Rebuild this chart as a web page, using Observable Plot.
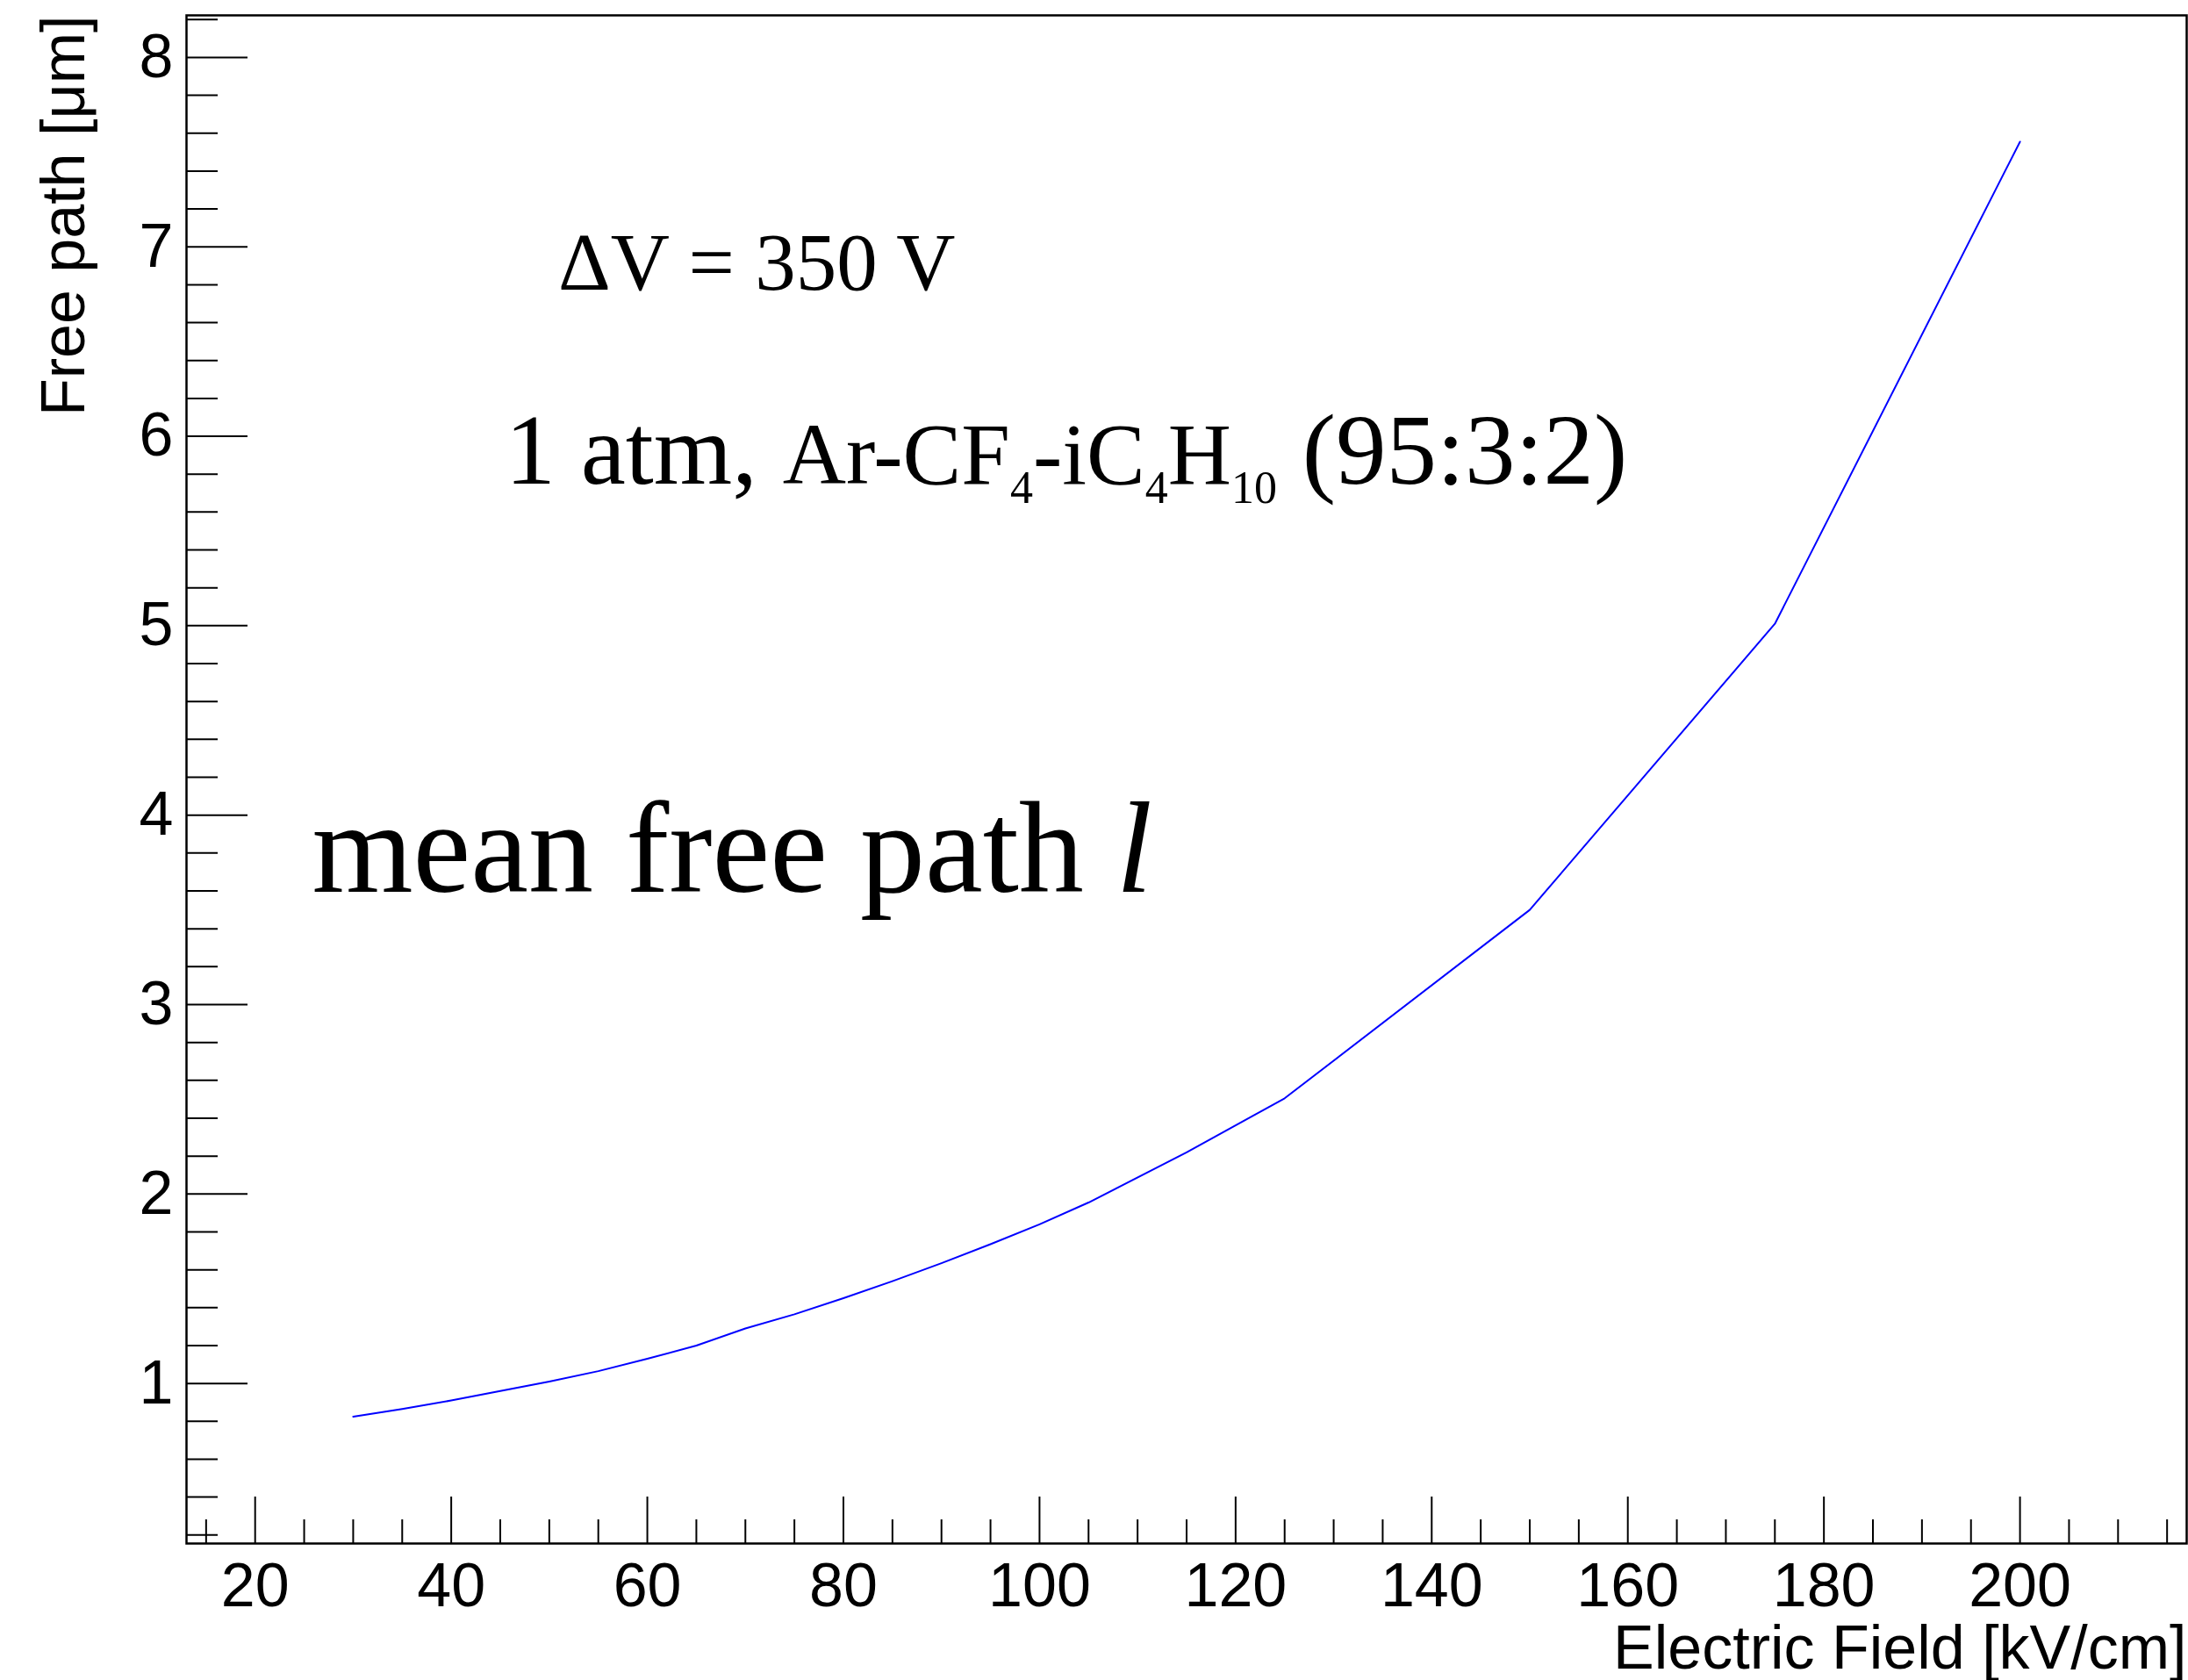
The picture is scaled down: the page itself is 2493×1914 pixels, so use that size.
<!DOCTYPE html>
<html>
<head>
<meta charset="utf-8">
<script src="https://cdn.jsdelivr.net/npm/d3@7"></script>
<script src="https://cdn.jsdelivr.net/npm/@observablehq/plot@0.6"></script>
<style>
  html, body { margin: 0; padding: 0; background: #ffffff; }
  #chart svg { display: block; }
</style>
</head>
<body>
<div id="chart"></div>
<script>
// Electric field [kV/cm] and the corresponding electron mean free path [µm]
const field    = [30, 35, 40, 45, 50, 55, 60, 65, 70, 75, 80, 85, 90, 95, 100, 105, 115, 125, 150, 175, 200];
const freePath = [0.825, 0.865, 0.91, 0.96, 1.01, 1.065, 1.13, 1.2, 1.29, 1.365, 1.45, 1.54, 1.635, 1.735, 1.84, 1.955, 2.22, 2.505, 3.5, 5.01, 7.555];

// Axis tick labels
const xTickLabels = [20, 40, 60, 80, 100, 120, 140, 160, 180, 200];
const yTickLabels = [1, 2, 3, 4, 5, 6, 7, 8];

// Axis ranges (graph range padded by 10% on each side)
const xDomain = [13, 217];
const yDomain = [0.155, 8.222];

const xMinor = d3.range(15, 217, 5).filter(v => v % 20 !== 0);
const yMinor = d3.range(1, 42).map(i => +(i * 0.2).toFixed(1)).filter(v => v < yDomain[1] && Math.abs(v - Math.round(v)) > 1e-9);

const W = 2493, H = 1914;
const mL = 212, mR = 2, mT = 17, mB = 156;
const frameW = W - mL - mR, frameH = H - mT - mB;

const rows = field.map((f, i) => ({field: f, path: freePath[i]}));

const sans = "Liberation Sans, Arial, Helvetica, sans-serif";
const serif = "Liberation Serif, Times New Roman, serif";

const noteVoltage = "ΔV = 350 V";
const noteGas = "1 atm, Ar-CF4-iC4H10 (95:3:2)";
const noteMfp = "mean free path l";

const chart = Plot.plot({
  width: W,
  height: H,
  marginLeft: mL,
  marginRight: mR,
  marginTop: mT,
  marginBottom: mB,
  style: {fontFamily: sans, fontSize: "70px", background: "#ffffff", color: "#000000"},
  x: {domain: xDomain, axis: null},
  y: {domain: yDomain, axis: null},
  marks: [
    Plot.frame({stroke: "#000000", strokeWidth: 2.5}),
    // inward ticks along the bottom axis
    Plot.tickX(xMinor, {x: d => d, insetTop: frameH - 27, stroke: "#000000", strokeWidth: 2}),
    Plot.tickX(xTickLabels, {x: d => d, insetTop: frameH - 53, stroke: "#000000", strokeWidth: 2}),
    // inward ticks along the left axis
    Plot.tickY(yMinor, {y: d => d, insetRight: frameW - 36, stroke: "#000000", strokeWidth: 2}),
    Plot.tickY(yTickLabels, {y: d => d, insetRight: frameW - 70, stroke: "#000000", strokeWidth: 2}),
    Plot.axisX(xTickLabels, {anchor: "bottom", tickSize: 0, tickPadding: 22, fontSize: 70, fontFamily: sans, label: null, tickFormat: d => String(d)}),
    Plot.axisY(yTickLabels, {anchor: "left", tickSize: 0, tickPadding: 15, fontSize: 70, fontFamily: sans, label: null, tickFormat: d => String(d)}),
    Plot.line(rows, {x: "field", y: "path", stroke: "#0000ff", strokeWidth: 2}),
    Plot.text(["Electric Field [kV/cm]"], {frameAnchor: "bottom-right", textAnchor: "end", lineAnchor: "bottom", dy: 142, fontSize: 70, fontFamily: sans, fill: "#000000"}),
    Plot.text(["Free path [μm]"], {frameAnchor: "top-left", rotate: -90, textAnchor: "end", lineAnchor: "bottom", dx: -117, dy: 0, fontSize: 70, fontFamily: sans, fill: "#000000"}),
    Plot.text([noteVoltage], {x: 50.9, y: 6.776, textAnchor: "start", lineAnchor: "bottom", fontSize: 93, fontFamily: serif, fill: "#000000"}),
    Plot.text([noteGas], {x: 45.5, y: 5.752, textAnchor: "start", lineAnchor: "bottom", fontSize: 115, fontFamily: serif, fill: "#000000"}),
    Plot.text([noteMfp], {x: 25.8, y: 3.594, textAnchor: "start", lineAnchor: "bottom", fontSize: 148, fontFamily: serif, fill: "#000000"})
  ]
});

// Rich text: mixed sizes, subscripts and the italic symbol
const svg = d3.select(chart);
function rebuild(content, parts) {
  svg.selectAll("text").filter(function () { return this.textContent === content; }).each(function () {
    const t = d3.select(this);
    t.style("white-space", "pre");
    t.selectAll("*").remove();
    t.text(null);
    for (const p of parts) {
      const s = t.append("tspan").text(p.text);
      if (p.size) s.attr("font-size", p.size);
      if (p.dy) s.attr("dy", p.dy);
      if (p.italic) s.attr("font-style", "italic");
    }
  });
}
const big = 115, mid = 100, sub = 52, shift = 22;
rebuild(noteGas, [
  {text: "1 atm, ", size: big},
  {text: "Ar-CF", size: mid},
  {text: "4", size: sub, dy: shift},
  {text: "-iC", size: mid, dy: -shift},
  {text: "4", size: sub, dy: shift},
  {text: "H", size: mid, dy: -shift},
  {text: "10", size: sub, dy: shift},
  {text: " (95:3:2)", size: big, dy: -shift}
]);
rebuild(noteMfp, [
  {text: "mean free path "},
  {text: "l", italic: true}
]);

document.getElementById("chart").appendChild(chart);
</script>
</body>
</html>
